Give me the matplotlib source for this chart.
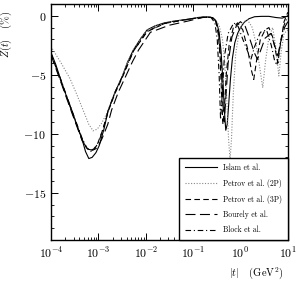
import numpy as np
import matplotlib
matplotlib.use("Agg")
import matplotlib.pyplot as plt
from matplotlib.ticker import MultipleLocator, LogLocator, NullFormatter

plt.rcParams['font.family'] = ['cmr10', 'DejaVu Serif']
plt.rcParams['mathtext.fontset'] = 'cm'
plt.rcParams['axes.formatter.use_mathtext'] = True

# log10|t| and Z(t) in %
islam_lt = [-4.0, -3.9, -3.81, -3.7, -3.56, -3.45, -3.34, -3.27, -3.2, -3.13, -3.05, -2.98,
            -2.88, -2.79, -2.65, -2.5, -2.38, -2.26, -2.1, -1.97, -1.8, -1.6, -1.4, -1.11,
            -0.9, -0.77, -0.65, -0.57, -0.5, -0.45, -0.41, -0.37, -0.34, -0.31, -0.28,
            -0.25, -0.21, -0.17, -0.12, -0.06, 0.0, 0.08, 0.18, 0.3, 0.45, 0.6, 0.75,
            0.88, 0.95, 1.0]
islam_z = [-3.1, -4.1, -5.2, -6.5, -8.0, -9.3, -10.5, -11.5, -12.1, -12.0, -11.6, -11.0,
           -9.6, -8.0, -6.5, -5.2, -3.9, -2.9, -1.9, -1.2, -0.85, -0.6, -0.45, -0.3,
           -0.15, -0.1, -0.1, -0.2, -0.6, -1.4, -3.0, -5.5, -8.0, -9.7, -9.2,
           -7.6, -5.3, -3.6, -2.3, -1.5, -1.0, -0.55, -0.25, -0.08, -0.05, -0.05, -0.15,
           -0.2, -0.1, 0.0]

p2_lt = [-4.0, -3.8, -3.6, -3.45, -3.32, -3.2, -3.11, -3.02, -2.93, -2.85, -2.79, -2.65,
         -2.5, -2.38, -2.26, -2.1, -1.97, -1.8, -1.6, -1.4, -1.11, -0.9, -0.77, -0.65,
         -0.55, -0.45, -0.38, -0.33, -0.29, -0.25, -0.22, -0.19, -0.15, -0.1, -0.02,
         0.07, 0.15, 0.25, 0.33, 0.4, 0.47, 0.53, 0.6, 0.68, 0.74, 0.81, 0.86, 0.92, 1.0]
p2_z = [-2.6, -3.9, -5.3, -6.7, -8.0, -9.2, -9.75, -9.6, -9.1, -8.5, -8.0, -6.5,
        -5.2, -3.9, -2.9, -1.9, -1.2, -0.85, -0.6, -0.45, -0.3, -0.15, -0.1, -0.1,
        -0.25, -0.8, -2.0, -4.0, -7.0, -10.5, -12.2, -10.5, -6.5, -3.2, -1.2,
        -0.5, -0.35, -1.0, -2.4, -4.2, -6.1, -3.8, -1.8, -1.0, -2.5, -5.1, -3.0, -1.5, -1.2]

p3_lt = [-4.0, -3.81, -3.56, -3.34, -3.25, -3.17, -3.1, -3.02, -2.9, -2.79, -2.65, -2.5,
         -2.26, -1.97, -1.6, -1.11, -0.77, -0.6, -0.52, -0.47, -0.43, -0.4, -0.37, -0.34,
         -0.3, -0.24, -0.15, -0.06, 0.05, 0.15, 0.23, 0.28, 0.34, 0.42, 0.52, 0.6, 0.68,
         0.75, 0.79, 0.84, 0.92, 1.0]
p3_z = [-3.2, -5.3, -8.1, -10.5, -11.2, -11.4, -11.3, -10.9, -9.6, -8.1, -6.6, -5.3,
        -3.0, -1.35, -0.65, -0.3, -0.12, -0.15, -0.5, -1.5, -3.5, -6.5, -9.2, -8.0,
        -5.0, -2.5, -1.0, -0.6, -1.2, -2.8, -4.6, -5.4, -3.8, -2.0, -1.2, -1.0, -1.8,
        -3.2, -4.0, -2.5, -0.5, 0.3]

bour_lt = [-4.0, -3.81, -3.56, -3.34, -3.22, -3.12, -3.02, -2.92, -2.8, -2.72, -2.58,
           -2.43, -2.28, -2.15, -1.9, -1.5, -1.11, -0.8, -0.62, -0.52, -0.46, -0.41,
           -0.37, -0.34, -0.31, -0.26, -0.18, -0.08, 0.0, 0.1, 0.2, 0.3, 0.36, 0.42,
           0.52, 0.64, 0.72, 0.79, 0.85, 0.93, 1.0]
bour_z = [-3.3, -5.4, -8.2, -10.6, -11.3, -11.4, -11.2, -10.4, -9.2, -8.0, -6.5,
          -5.2, -3.9, -2.9, -1.4, -0.8, -0.45, -0.15, -0.1, -0.4, -1.5, -4.0,
          -7.5, -9.0, -7.0, -4.0, -1.8, -0.8, -0.5, -0.9, -2.0, -3.2, -3.7, -3.0,
          -1.9, -1.5, -2.5, -3.4, -2.2, -1.0, -0.5]

block_lt = [-4.0, -3.81, -3.56, -3.34, -3.24, -3.16, -3.08, -2.98, -2.88, -2.79, -2.65,
            -2.5, -2.26, -1.97, -1.6, -1.11, -0.77, -0.62, -0.54, -0.49, -0.45, -0.42,
            -0.39, -0.34, -0.26, -0.14, -0.05, 0.05, 0.15, 0.22, 0.3, 0.42, 0.55, 0.65,
            0.72, 0.77, 0.83, 0.92, 1.0]
block_z = [-3.2, -5.2, -8.0, -10.4, -11.2, -11.5, -11.3, -10.6, -9.3, -8.0, -6.5,
           -5.2, -3.0, -1.3, -0.65, -0.3, -0.12, -0.15, -0.6, -2.0, -5.0, -8.8,
           -7.0, -3.5, -1.5, -0.6, -0.9, -2.0, -3.0, -3.7, -2.6, -1.4, -1.2, -2.5,
           -3.8, -4.2, -2.5, -0.8, 0.0]

labels = ["Islam et al.", "Petrov et al. (2P)", "Petrov et al. (3P)",
          "Bourely et al.", "Block et al."]

fig = plt.figure(figsize=(3.03, 2.83), dpi=100)
ax = fig.add_axes([0.168, 0.152, 0.782, 0.834])

lw = 0.8
ax.plot(10 ** np.array(islam_lt), islam_z, color="black", lw=lw, label=labels[0])
ax.plot(10 ** np.array(p2_lt), p2_z, color="#888888", lw=lw, ls=(0, (1, 1.5)), label=labels[1])
ax.plot(10 ** np.array(p3_lt), p3_z, color="black", lw=lw, ls=(0, (5, 3)), label=labels[2])
ax.plot(10 ** np.array(bour_lt), bour_z, color="black", lw=lw, ls=(0, (9, 4)), label=labels[3])
ax.plot(10 ** np.array(block_lt), block_z, color="black", lw=lw, ls=(0, (5, 2.5, 1, 2.5)), label=labels[4])

ax.set_xscale("log")
ax.set_xlim(1e-4, 10)
ax.set_ylim(-19, 1)
ax.set_yticks([0, -5, -10, -15])
ax.yaxis.set_minor_locator(MultipleLocator(1))
ax.xaxis.set_major_locator(LogLocator(base=10, numticks=10))
ax.xaxis.set_minor_locator(LogLocator(base=10, subs=np.arange(2, 10), numticks=20))
ax.xaxis.set_minor_formatter(NullFormatter())

ax.tick_params(which="both", direction="in", top=True, right=True, labelsize=8.5)
ax.tick_params(which="major", length=5, width=0.7)
ax.tick_params(which="minor", length=2.5, width=0.6)
ax.tick_params(axis="x", pad=4)
for s in ax.spines.values():
    s.set_linewidth(1.0)

ax.set_ylabel(r"$Z(t)$   $(\%)$", fontsize=7.5)
ax.yaxis.set_label_coords(-0.155, 0.87)
ax.set_xlabel(r"$|t|$   (GeV$^2$)", fontsize=7.5)
ax.xaxis.set_label_coords(0.865, -0.105)

leg = ax.legend(loc="lower right", fontsize=5.5, frameon=True, fancybox=False,
                edgecolor="black", framealpha=1, borderaxespad=0, handlelength=4.2,
                labelspacing=0.9, borderpad=0.75, handletextpad=0.8)
leg.get_frame().set_linewidth(1.0)

fig.savefig("out.png", dpi=100)
